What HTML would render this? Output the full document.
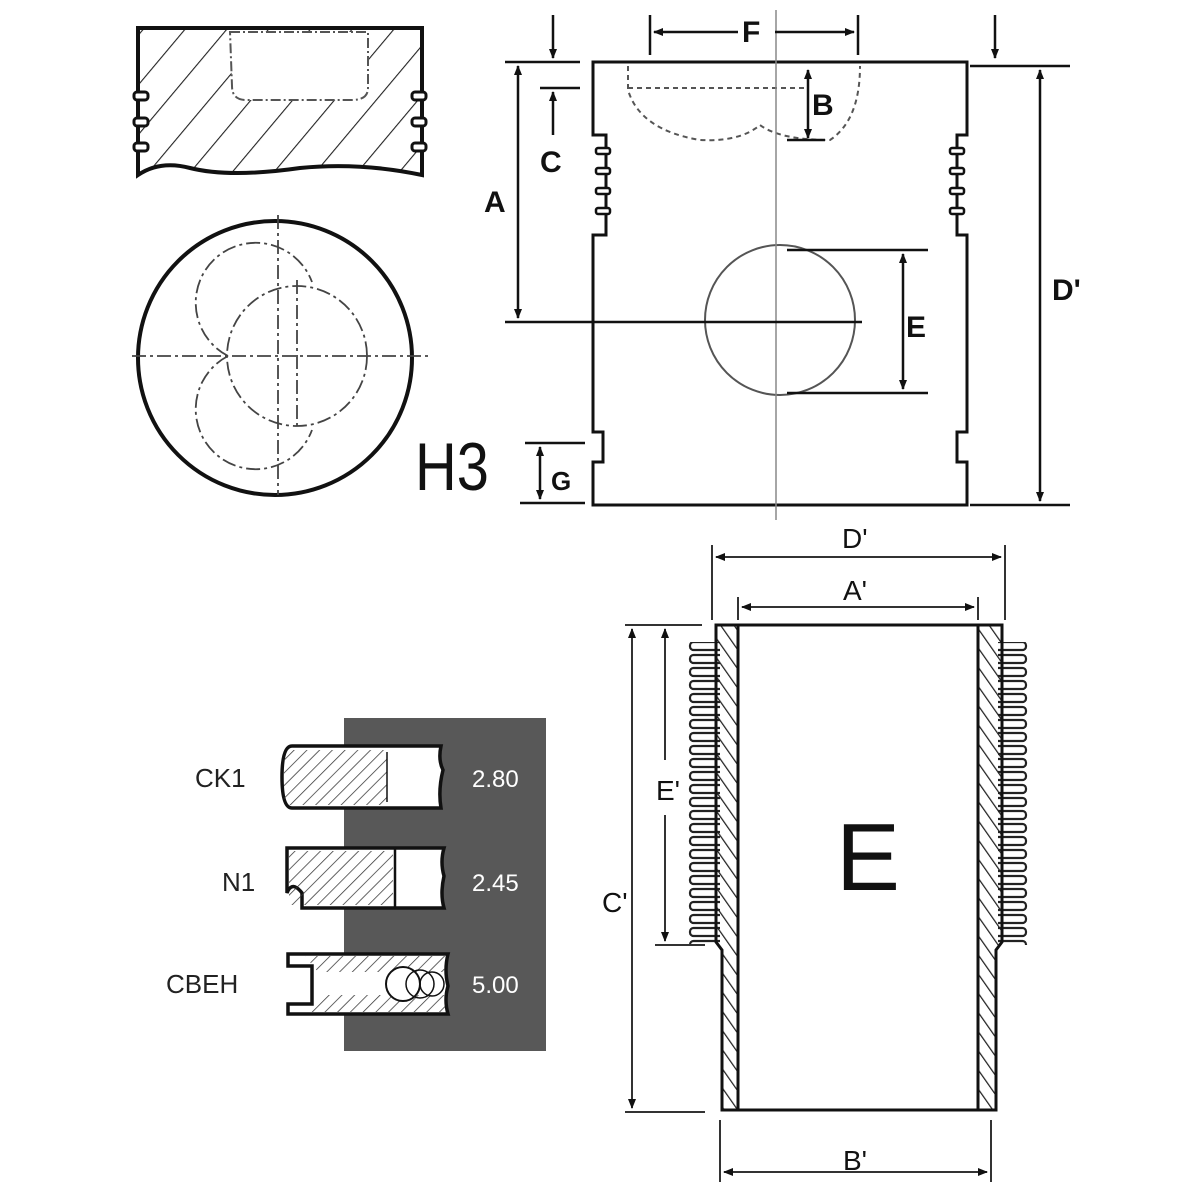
<!DOCTYPE html>
<html><head><meta charset="utf-8"><style>
html,body{margin:0;padding:0;background:#fff}
svg{display:block}
text{font-family:"Liberation Sans",Arial,sans-serif}
</style></head><body>
<svg width="1200" height="1200" viewBox="0 0 1200 1200" xmlns="http://www.w3.org/2000/svg">
<defs>
<pattern id="h" width="32" height="32" patternUnits="userSpaceOnUse" patternTransform="rotate(40)">
<line x1="0" y1="0" x2="0" y2="32" stroke="#222" stroke-width="2.2"/></pattern>
<pattern id="h2" width="11" height="11" patternUnits="userSpaceOnUse" patternTransform="rotate(-35)">
<line x1="0" y1="0" x2="0" y2="11" stroke="#222" stroke-width="2.5"/></pattern>
<pattern id="h3" width="9" height="9" patternUnits="userSpaceOnUse" patternTransform="rotate(45)">
<line x1="0" y1="0" x2="0" y2="9" stroke="#333" stroke-width="1.5"/></pattern>
<pattern id="finL" x="688" y="640" width="34" height="13" patternUnits="userSpaceOnUse">
<rect x="2" y="2" width="34" height="8" rx="3.5" fill="#fff" stroke="#222" stroke-width="2.2"/></pattern>
<pattern id="finR" x="996" y="640" width="34" height="13" patternUnits="userSpaceOnUse">
<rect x="-4" y="2" width="34" height="8" rx="3.5" fill="#fff" stroke="#222" stroke-width="2.2"/></pattern>
<marker id="a" markerWidth="10" markerHeight="10" refX="9" refY="5" orient="auto-start-reverse" markerUnits="userSpaceOnUse"><path d="M0,1 L10,5 L0,9z" fill="#111"/></marker>
</defs>
<g fill="none" stroke="#111">
<!-- piston top section -->
<path d="M138,28 H422 V175 Q360,162 300,168 Q230,178 190,168 Q160,160 138,175 Z" fill="url(#h)" stroke-width="4"/>
<path d="M230,32 H368 V88 Q368,100 352,100 H246 Q232,100 232,86 Z" fill="#fff" stroke="#555" stroke-width="2" stroke-dasharray="10,3,2,3"/>
<g fill="#fff" stroke-width="3"><rect x="134" y="92" width="14" height="8" rx="3"/><rect x="134" y="118" width="14" height="8" rx="3"/><rect x="134" y="143" width="14" height="8" rx="3"/>
<rect x="412" y="92" width="14" height="8" rx="3"/><rect x="412" y="118" width="14" height="8" rx="3"/><rect x="412" y="143" width="14" height="8" rx="3"/></g>
<!-- circle view -->
<circle cx="275" cy="358" r="137" stroke-width="4"/>
<g stroke="#444" stroke-width="1.8" stroke-dasharray="14,4,3,4">
<circle cx="297" cy="356" r="70"/>
<path d="M228,356 A60,60 0 1 1 312,282"/>
<path d="M228,356 A60,60 0 1 0 312,430"/>
<line x1="132" y1="356" x2="430" y2="356"/>
<line x1="278" y1="215" x2="278" y2="495"/>
<line x1="297" y1="280" x2="297" y2="430"/>
</g>
<!-- main piston -->
<path d="M593,62 H967 V135 H957 V235 H967 V432 H957 V462 H967 V505 H593 V462 H603 V432 H593 V235 H606 V135 H593 Z" stroke-width="3" fill="#fff"/>
<g fill="#fff" stroke-width="2.5"><rect x="596" y="148" width="14" height="6" rx="2"/><rect x="596" y="168" width="14" height="6" rx="2"/><rect x="596" y="188" width="14" height="6" rx="2"/><rect x="596" y="208" width="14" height="6" rx="2"/>
<rect x="950" y="148" width="14" height="6" rx="2"/><rect x="950" y="168" width="14" height="6" rx="2"/><rect x="950" y="188" width="14" height="6" rx="2"/><rect x="950" y="208" width="14" height="6" rx="2"/></g>
<path d="M628,66 V90 Q640,130 700,140 Q740,142 760,125 Q780,140 830,140 Q860,120 860,66 M628,88 H805" stroke="#555" stroke-width="2" stroke-dasharray="5,4"/>
<circle cx="780" cy="320" r="75" stroke="#555" stroke-width="2"/>
<line x1="776" y1="10" x2="776" y2="520" stroke="#888" stroke-width="1.5"/>
<g stroke-width="2.5">
<line x1="505" y1="62" x2="580" y2="62"/><line x1="540" y1="88" x2="580" y2="88"/>
<line x1="518" y1="66" x2="518" y2="318" marker-start="url(#a)" marker-end="url(#a)"/>
<line x1="505" y1="322" x2="862" y2="322"/>
<line x1="553" y1="15" x2="553" y2="58" marker-end="url(#a)"/>
<line x1="553" y1="135" x2="553" y2="92" marker-end="url(#a)"/>
<line x1="995" y1="15" x2="995" y2="58" marker-end="url(#a)"/>
<line x1="970" y1="66" x2="1070" y2="66"/><line x1="970" y1="505" x2="1070" y2="505"/>
<line x1="1040" y1="70" x2="1040" y2="501" marker-start="url(#a)" marker-end="url(#a)"/>
<line x1="650" y1="15" x2="650" y2="55"/><line x1="858" y1="15" x2="858" y2="55"/>
<line x1="654" y1="32" x2="738" y2="32" marker-start="url(#a)"/><line x1="775" y1="32" x2="854" y2="32" marker-end="url(#a)"/>
<line x1="808" y1="70" x2="808" y2="138" marker-start="url(#a)" marker-end="url(#a)"/>
<line x1="787" y1="140" x2="825" y2="140"/>
<line x1="787" y1="250" x2="928" y2="250"/><line x1="787" y1="393" x2="928" y2="393"/>
<line x1="903" y1="254" x2="903" y2="389" marker-start="url(#a)" marker-end="url(#a)"/>
<line x1="525" y1="443" x2="585" y2="443"/><line x1="520" y1="503" x2="585" y2="503"/>
<line x1="540" y1="447" x2="540" y2="499" marker-start="url(#a)" marker-end="url(#a)"/>
</g>
</g>
<g font-size="30" fill="#111" font-weight="bold">
<text x="742" y="42">F</text><text x="812" y="115">B</text><text x="540" y="172">C</text><text x="484" y="212">A</text>
<text x="906" y="337">E</text><text x="1052" y="300">D'</text><text x="551" y="490" font-size="26">G</text>
</g>
<text x="415" y="490" font-size="68" fill="#111" transform="translate(415 0) scale(0.85 1) translate(-415 0)">H3</text>
<!-- rings panel -->
<rect x="344" y="718" width="202" height="333" fill="#585858"/>
<g stroke="#111" stroke-width="3.5">
<path d="M292,746 H441 Q438,760 443,770 Q438,790 441,808 H292 Q282,808 282,777 Q282,746 292,746Z" fill="#fff"/>
<rect x="284" y="750" width="103" height="55" fill="url(#h3)" stroke="none"/>
<line x1="387" y1="752" x2="387" y2="802" stroke-width="1.5"/>
<path d="M287,848 H444 Q440,862 444,876 Q440,894 444,908 H302 V893 Q292,880 287,893 Z" fill="#fff"/>
<rect x="289" y="851" width="104" height="54" fill="url(#h3)" stroke="none"/>
<line x1="395" y1="848" x2="395" y2="908" stroke-width="2.5"/>
<path d="M288,954 H448 Q444,970 448,986 Q444,1000 448,1014 H288 V1004 H312 V966 H288 Z" fill="#fff"/>
<path d="M305,956 H445 V972 H318 Z M318,995 H445 V1012 H305 Z" fill="url(#h3)" stroke="none"/>
<circle cx="403" cy="984" r="17" fill="#fff" stroke-width="2"/><circle cx="420" cy="984" r="14" fill="none" stroke-width="1.5"/><circle cx="432" cy="984" r="12" fill="none" stroke-width="1.5"/>
</g>
<g font-size="26" fill="#222"><text x="195" y="787">CK1</text><text x="222" y="891">N1</text><text x="166" y="993">CBEH</text></g>
<g font-size="24" fill="#fff"><text x="472" y="787">2.80</text><text x="472" y="891">2.45</text><text x="472" y="993">5.00</text></g>
<!-- liner -->
<rect x="688" y="642" width="32" height="303" fill="url(#finL)"/>
<rect x="998" y="642" width="32" height="303" fill="url(#finR)"/>
<g stroke="#111" stroke-width="3">
<path d="M716,625 H738 V1110 H722 V950 L716,942 Z" fill="url(#h2)"/>
<path d="M978,625 H1002 V942 L996,950 V1110 H978 Z" fill="url(#h2)"/>
<line x1="716" y1="625" x2="1002" y2="625"/><line x1="722" y1="1110" x2="996" y2="1110"/>
</g>
<g stroke="#333" stroke-width="2" fill="none">
<line x1="712" y1="545" x2="712" y2="620"/><line x1="1005" y1="545" x2="1005" y2="620"/>
<line x1="716" y1="557" x2="1001" y2="557" marker-start="url(#a)" marker-end="url(#a)"/>
<line x1="738" y1="597" x2="738" y2="620"/><line x1="978" y1="597" x2="978" y2="620"/>
<line x1="742" y1="607" x2="974" y2="607" marker-start="url(#a)" marker-end="url(#a)"/>
<line x1="625" y1="625" x2="702" y2="625"/>
<line x1="632" y1="629" x2="632" y2="1108" marker-start="url(#a)" marker-end="url(#a)"/>
<line x1="625" y1="1112" x2="705" y2="1112"/>
<line x1="665" y1="629" x2="665" y2="760" marker-start="url(#a)"/>
<line x1="665" y1="815" x2="665" y2="941" marker-end="url(#a)"/>
<line x1="655" y1="945" x2="705" y2="945"/>
<line x1="720" y1="1120" x2="720" y2="1182"/><line x1="991" y1="1120" x2="991" y2="1182"/>
<line x1="724" y1="1172" x2="987" y2="1172" marker-start="url(#a)" marker-end="url(#a)"/>
</g>
<g font-size="28" fill="#111"><text x="842" y="548">D'</text><text x="843" y="600">A'</text><text x="656" y="800">E'</text><text x="602" y="912">C'</text><text x="843" y="1170">B'</text></g>
<text x="836" y="890" font-size="96" fill="#111">E</text>
</svg>
</body></html>
